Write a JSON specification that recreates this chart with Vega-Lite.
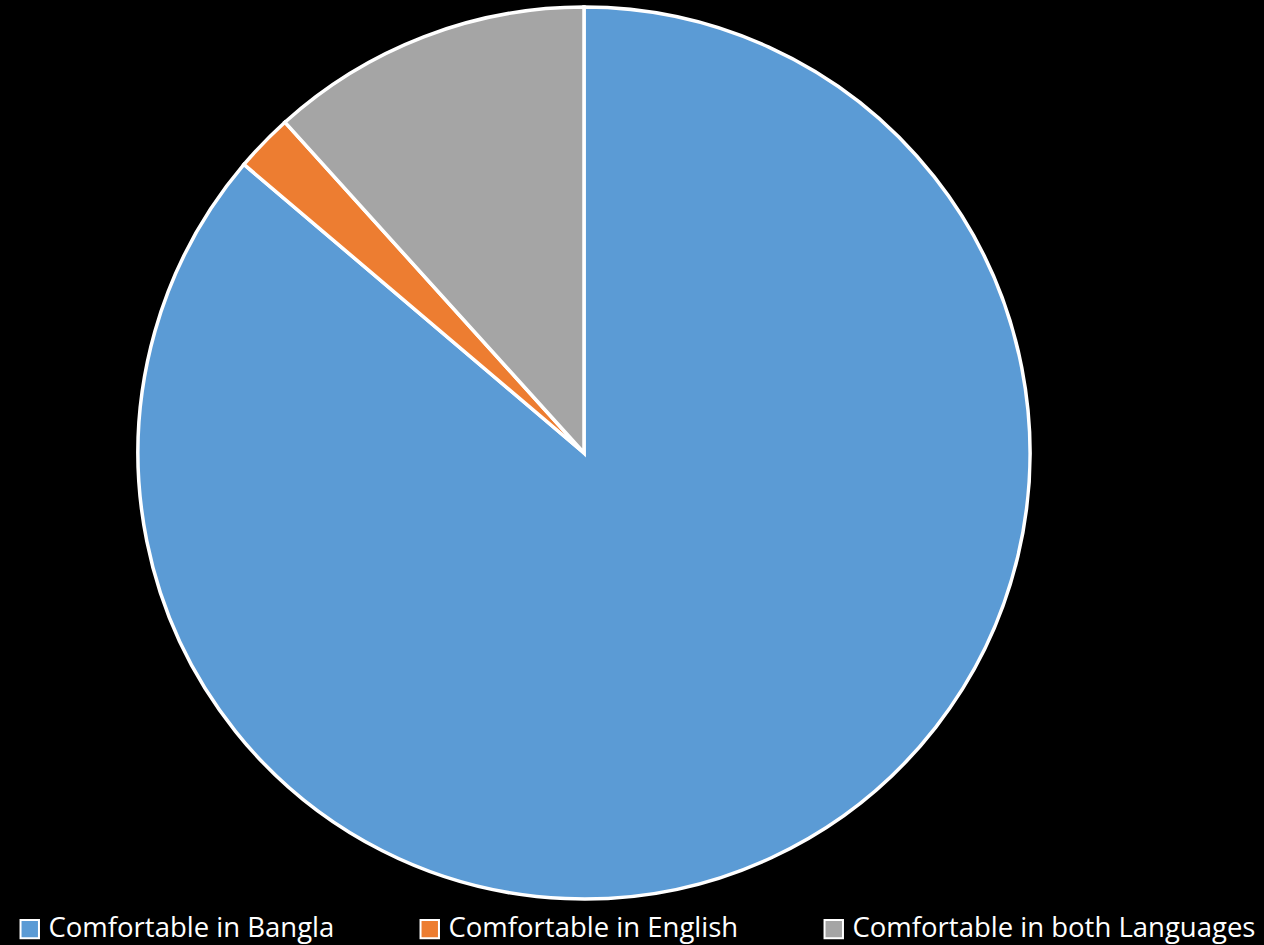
{
  "$schema": "https://vega.github.io/schema/vega-lite/v6.json",
  "width": 1168,
  "height": 894,
  "autosize": "none",
  "padding": {"left": 0, "top": 6, "right": 96, "bottom": 45},
  "background": "black",
  "config": {"view": {"stroke": null}},
  "data": {
    "values": [
      {"category": "Comfortable in Bangla", "value": 86.2},
      {"category": "Comfortable in English", "value": 2.1},
      {"category": "Comfortable in both Languages", "value": 11.7}
    ]
  },
  "mark": {"type": "arc", "outerRadius": 446, "stroke": "white", "strokeWidth": 3.5},
  "encoding": {
    "theta": {"field": "value", "type": "quantitative", "stack": true},
    "color": {
      "field": "category",
      "type": "nominal",
      "scale": {
        "domain": ["Comfortable in Bangla", "Comfortable in English", "Comfortable in both Languages"],
        "range": ["#5B9BD5", "#ED7D31", "#A5A5A5"]
      },
      "legend": {
        "title": null,
        "orient": "none",
        "direction": "horizontal",
        "legendX": 16,
        "legendY": 909,
        "symbolType": "square",
        "symbolSize": 340,
        "symbolStrokeColor": "white",
        "symbolStrokeWidth": 2,
        "labelColor": "white",
        "labelFont": "Open Sans",
        "labelFontSize": 27.5,
        "labelLimit": 600,
        "labelOffset": 5,
        "columnPadding": 81
      }
    }
  }
}
